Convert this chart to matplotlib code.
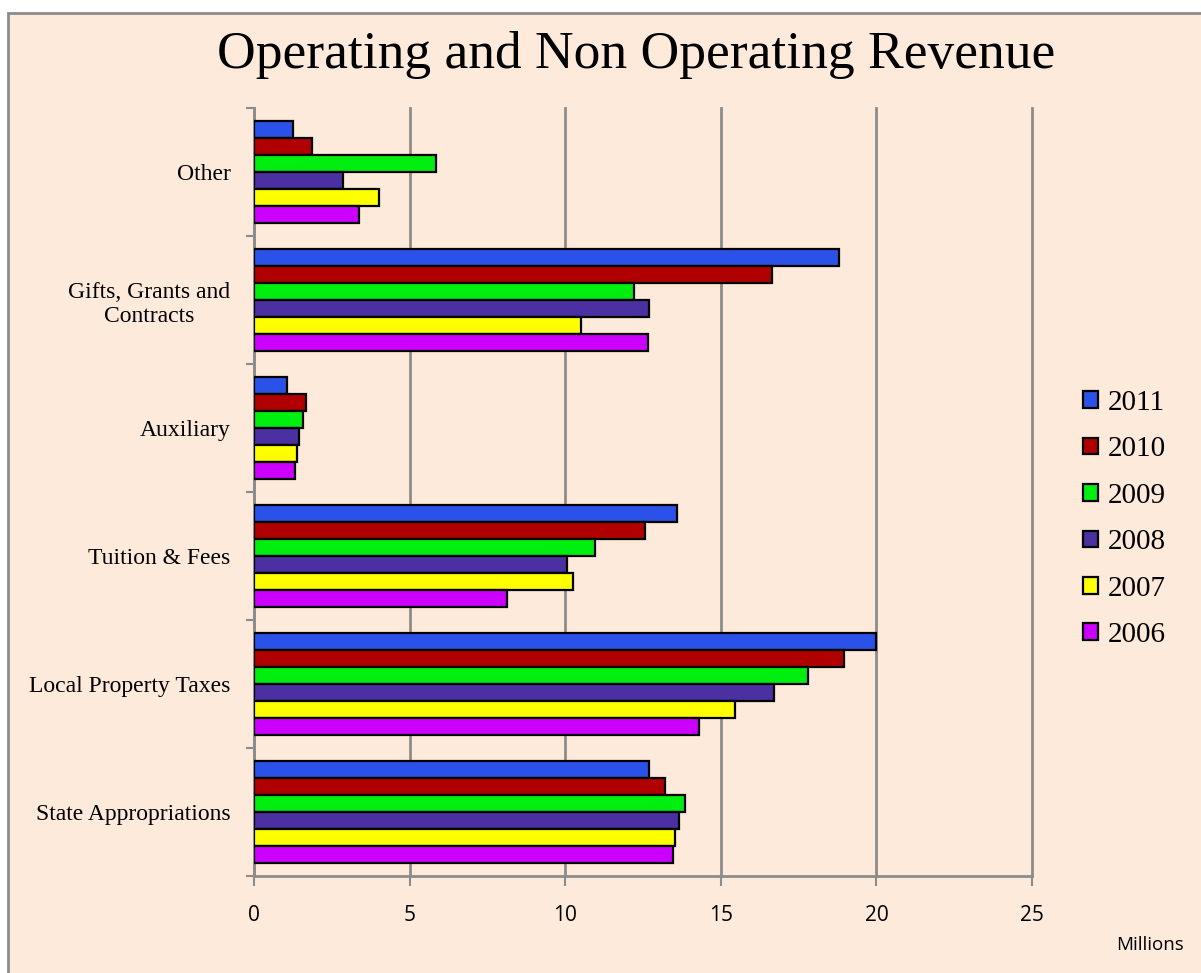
import numpy as np
import matplotlib.pyplot as plt
from matplotlib.patches import Rectangle

# categories from bottom to top
categorias = ['State Appropriations', 'Local Property Taxes', 'Tuition & Fees',
              'Auxiliary', 'Gifts, Grants and\nContracts', 'Other']
anios = ['2011', '2010', '2009', '2008', '2007', '2006']

# values in millions, one list per year, same order as categorias
v2011 = [12.7, 20.0, 13.6, 1.07, 18.8, 1.25]
v2010 = [13.2, 18.95, 12.57, 1.68, 16.65, 1.87]
v2009 = [13.86, 17.8, 10.96, 1.58, 12.2, 5.85]
v2008 = [13.66, 16.7, 10.06, 1.45, 12.7, 2.87]
v2007 = [13.53, 15.46, 10.25, 1.38, 10.5, 4.03]
v2006 = [13.47, 14.3, 8.13, 1.32, 12.65, 3.38]
series = [v2011, v2010, v2009, v2008, v2007, v2006]

colores = ['#2A52E8', '#B00000', '#00EE10', '#4A30A0', '#FFFF00', '#CC00FF']

fondo = '#FDEADA'
gris = '#8C8C8C'

fig = plt.figure(figsize=(12.01, 9.73), dpi=100)
fig.patch.set_facecolor('white')
# peach panel with grey border (cut at the right and bottom edges)
fig.patches.append(Rectangle((8 / 1201, -0.05), 1.1, 1 - 13 / 973 + 0.05,
                             transform=fig.transFigure, facecolor=fondo,
                             edgecolor=gris, linewidth=2, zorder=-10))

ax = fig.add_axes([254 / 1201, 1 - 876 / 973, (1032 - 254) / 1201, (876 - 108) / 973])
ax.set_facecolor(fondo)

y = np.arange(len(categorias))
h = 0.134
for j, (vals, c, lab) in enumerate(zip(series, colores, anios)):
    ax.barh(y + (2.5 - j) * h, vals, height=h, color=c, edgecolor='black',
            linewidth=1.6, label=lab, zorder=3)

ax.set_xlim(0, 25)
ax.set_ylim(-0.5, 5.5)
ax.set_xticks(range(0, 26, 5))
ax.xaxis.grid(True, color=gris, linewidth=2, zorder=0)
for gl in ax.get_xgridlines():
    gl.set_clip_on(False)
ax.tick_params(axis='x', length=7, width=1.5, color=gris, labelsize=15, pad=14)
for t in ax.get_xticklabels():
    t.set_fontfamily('Open Sans')

ax.set_yticks(np.arange(-0.5, 6, 1))
ax.set_yticklabels([])
ax.set_yticks(y, minor=True)
ax.set_yticklabels(categorias, minor=True, fontsize=17, family='Liberation Serif',
                   multialignment='center')
ax.tick_params(axis='y', which='major', length=6, width=1.5, color=gris)
ax.tick_params(axis='y', which='minor', length=0, pad=17)

for s in ['top', 'right']:
    ax.spines[s].set_visible(False)
for s in ['left', 'bottom']:
    ax.spines[s].set_color(gris)
    ax.spines[s].set_linewidth(2)

fig.text(636 / 1201, 1 - 55 / 973, 'Operating and Non Operating Revenue',
         ha='center', va='center', fontsize=38.5, family='Liberation Serif')
fig.text(1150 / 1201, 1 - 945 / 973, 'Millions', ha='center', va='center',
         fontsize=13.5, family='Open Sans')

leg = fig.legend(loc='center left', bbox_to_anchor=(1057 / 1201, 1 - 519 / 973),
                 frameon=False, prop={'family': 'Liberation Serif', 'size': 21},
                 handlelength=0.5, handleheight=0.5, handletextpad=0.35,
                 labelspacing=0.7)

fig.savefig('out.png', dpi=100, facecolor=fig.get_facecolor())
